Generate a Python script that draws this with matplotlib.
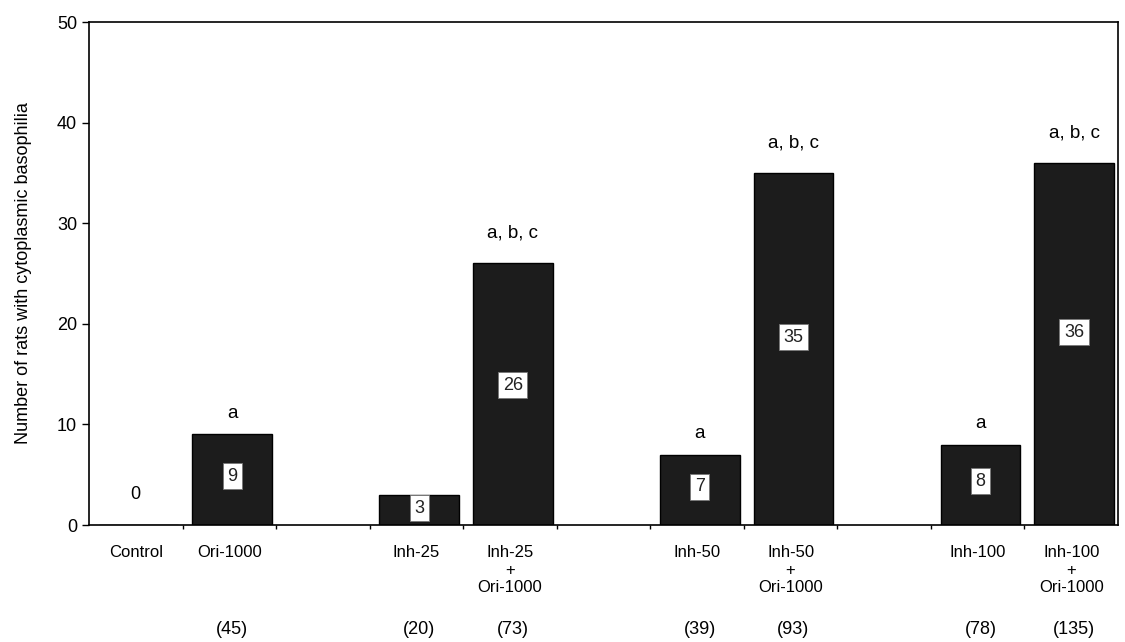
import numpy as np
import matplotlib
matplotlib.use("Agg")
import matplotlib.pyplot as plt

plt.rcParams['font.family'] = ['Liberation Sans', 'DejaVu Sans']

# groups and their slot on the category axis (gaps at 2, 5, 8)
groups = ["Control", "Ori-1000", "Inh-25", "Inh-25\n+\nOri-1000",
          "Inh-50", "Inh-50\n+\nOri-1000", "Inh-100", "Inh-100\n+\nOri-1000"]
slots = [0, 1, 3, 4, 6, 7, 9, 10]
rats = [0, 9, 3, 26, 7, 35, 8, 36]
signif = ["", "a", "", "a, b, c", "a", "a, b, c", "a", "a, b, c"]
counts = [None, 45, 20, 73, 39, 93, 78, 135]

fig = plt.figure(figsize=(11.25, 6.42), dpi=100)
ax = fig.add_axes([0.0791, 0.1822, 0.9147, 0.7835])

ax.bar(np.array(slots) + 0.03, rats, width=0.85, color='#1c1c1c',
       edgecolor='black', linewidth=1.0, zorder=2)

for x, v, s, lab, n in zip(slots, rats, signif, groups, counts):
    if v == 0:
        ax.text(x, 3.0, "0", ha='center', va='center', fontsize=13)
    else:
        ax.text(x + 0.03, v * 0.53 + 0.1, str(v), ha='center', va='center',
                fontsize=13, color='#222222', zorder=3,
                bbox=dict(boxstyle='square,pad=0.25', facecolor='white',
                          edgecolor='#777777', linewidth=0.6))
    if s:
        off = 2.1 if s == "a" else 3.0
        ax.text(x + 0.03, v + off, s, ha='center', va='center', fontsize=13.5)
    ax.text(x, -2.0, lab, ha='center', va='top', fontsize=12,
            linespacing=1.2)
    if n is not None:
        ax.text(x + 0.03, -10.4, "(%d)" % n, ha='center', va='center',
                fontsize=13)

ax.set_xlim(-0.5, 10.5)
ax.set_ylim(0, 50)
ax.set_yticks(np.arange(0, 51, 10))
ax.tick_params(axis='y', labelsize=13, length=5, width=1, direction='out')
ax.set_xticks(np.arange(0.5, 10, 1))
ax.set_xticklabels([])
ax.tick_params(axis='x', length=3, width=1, direction='out')
for sp in ax.spines.values():
    sp.set_linewidth(1.2)

ax.set_ylabel("Number of rats with cytoplasmic basophilia", fontsize=13,
              labelpad=18)

fig.savefig("out.png", dpi=100)
